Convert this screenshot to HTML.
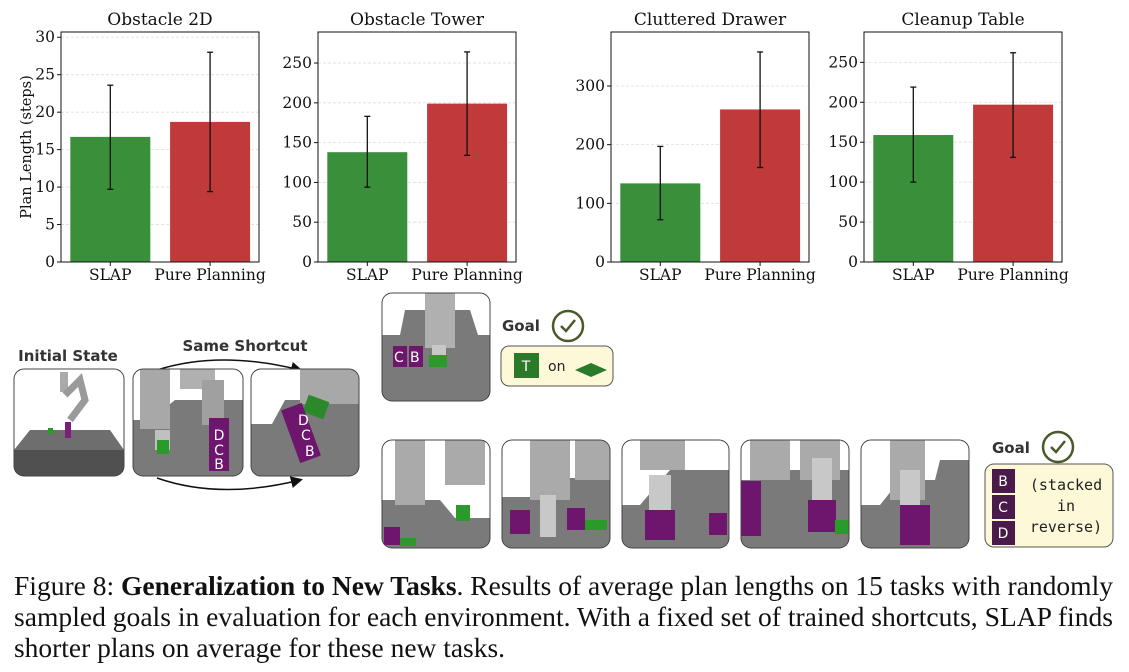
<!DOCTYPE html>
<html><head><meta charset="utf-8">
<style>
html,body{margin:0;padding:0;background:#fff;width:1129px;height:672px;overflow:hidden}
svg{display:block}
.tick{font-family:"DejaVu Serif","Liberation Serif",serif;font-size:15.5px;fill:#111}
.ytl{font-family:"DejaVu Serif","Liberation Serif",serif;font-size:14.5px;fill:#111}
.ttl{font-family:"DejaVu Serif","Liberation Serif",serif;font-size:17px;fill:#111}
.lbl{font-family:"DejaVu Sans","Liberation Sans",sans-serif;font-weight:bold;font-size:15px;fill:#333}
.cap{font-family:"Liberation Serif",serif;font-size:27px;fill:#111}
.mono{font-family:"DejaVu Sans Mono","Liberation Mono",monospace;font-size:15px;fill:#222}
.blk{font-family:"DejaVu Sans","Liberation Sans",sans-serif;font-size:14px;fill:#fff}
</style></head>
<body>
<svg id="fig" width="1129" height="672" viewBox="0 0 1129 672" xmlns="http://www.w3.org/2000/svg">
<g id="charts"></g>
<text class="ytl" transform="translate(31,147) rotate(-90)" text-anchor="middle">Plan Length (steps)</text>

<defs>
<clipPath id="c1"><rect x="14" y="369" width="110" height="107" rx="10"/></clipPath>
<clipPath id="c2"><rect x="133" y="369" width="110" height="107" rx="10"/></clipPath>
<clipPath id="c3"><rect x="251" y="369" width="108" height="107" rx="10"/></clipPath>
<clipPath id="c4"><rect x="382" y="293" width="108" height="108" rx="10"/></clipPath>
<clipPath id="c5"><rect x="382" y="440" width="108" height="108" rx="10"/></clipPath>
<clipPath id="c6"><rect x="502" y="440" width="108" height="108" rx="10"/></clipPath>
<clipPath id="c7"><rect x="622" y="440" width="107" height="108" rx="10"/></clipPath>
<clipPath id="c8"><rect x="741" y="440" width="108" height="108" rx="10"/></clipPath>
<clipPath id="c9"><rect x="861" y="440" width="108" height="108" rx="10"/></clipPath>
<marker id="arr" markerWidth="8" markerHeight="8" refX="6" refY="4" orient="auto"><path d="M0,0 L8,4 L0,8 z" fill="#111"/></marker>
</defs>

<text class="lbl" x="68" y="361" text-anchor="middle">Initial State</text>
<text class="lbl" x="245" y="351" text-anchor="middle">Same Shortcut</text>
<path d="M157,370 Q220,350 300,370" fill="none" stroke="#111" stroke-width="1.5" marker-end="url(#arr)"/>
<path d="M157,478 Q220,500 300,480" fill="none" stroke="#111" stroke-width="1.5" marker-end="url(#arr)"/>

<g clip-path="url(#c1)">
<rect x="14" y="369" width="110" height="107" fill="#fff"/>
<polygon points="14,450 30,430 110,430 124,450 124,476 14,476" fill="#6e6e6e"/>
<polygon points="14,450 124,450 124,476 14,476" fill="#505050"/>
<rect x="60" y="372" width="8" height="20" fill="#aaa"/>
<path d="M65,395 L80,380 L85,400 L70,420" stroke="#9a9a9a" stroke-width="7" fill="none"/>
<rect x="65" y="422" width="6" height="16" fill="#7a1f7a"/>
<rect x="48" y="428" width="5" height="6" fill="#2a9a2a"/>
</g>
<rect x="14" y="369" width="110" height="107" rx="10" fill="none" stroke="#444"/>

<g clip-path="url(#c2)">
<rect x="133" y="369" width="110" height="107" fill="#fff"/>
<polygon points="133,420 150,420 175,400 243,400 243,476 133,476" fill="#7a7a7a"/>
<rect x="140" y="369" width="30" height="60" fill="#a8a8a8"/>
<rect x="180" y="369" width="35" height="20" fill="#b0b0b0"/>
<rect x="202" y="380" width="22" height="45" fill="#a0a0a0"/>
<rect x="155" y="430" width="15" height="20" fill="#c0c0c0"/>
<rect x="157" y="440" width="12" height="14" fill="#2a9a2a"/>
<rect x="209" y="418" width="20" height="53" fill="#6e166e"/>
<text class="blk" x="219" y="440" text-anchor="middle">D</text>
<text class="blk" x="219" y="455" text-anchor="middle">C</text>
<text class="blk" x="219" y="469" text-anchor="middle">B</text>
</g>
<rect x="133" y="369" width="110" height="107" rx="10" fill="none" stroke="#444"/>

<g clip-path="url(#c3)">
<rect x="251" y="369" width="108" height="107" fill="#fff"/>
<polygon points="251,424 272,424 285,400 359,400 359,476 251,476" fill="#7a7a7a"/>
<rect x="300" y="369" width="59" height="35" fill="#a8a8a8"/>
<rect x="305" y="398" width="22" height="18" fill="#2a8a2a" transform="rotate(20 316 407)"/>
<rect x="290" y="405" width="22" height="56" fill="#6e166e" transform="rotate(-20 301 433)"/>
<text class="blk" x="298" y="425">D</text><text class="blk" x="301" y="440">C</text><text class="blk" x="305" y="456">B</text>
</g>
<rect x="251" y="369" width="108" height="107" rx="10" fill="none" stroke="#444"/>

<g clip-path="url(#c4)">
<rect x="382" y="293" width="108" height="108" fill="#fff"/>
<polygon points="382,335 400,335 405,310 470,310 478,335 490,335 490,401 382,401" fill="#7a7a7a"/>
<rect x="425" y="293" width="30" height="55" fill="#b0b0b0"/>
<rect x="432" y="345" width="14" height="20" fill="#c8c8c8"/>
<rect x="429" y="355" width="18" height="12" fill="#2a9a2a"/>
<rect x="393" y="346" width="14" height="21" fill="#6e166e"/><text class="blk" x="394" y="362" font-size="11">C</text>
<rect x="409" y="346" width="14" height="21" fill="#6e166e"/><text class="blk" x="410" y="362" font-size="11">B</text>
</g>
<rect x="382" y="293" width="108" height="108" rx="10" fill="none" stroke="#444"/>

<text class="lbl" x="502" y="331">Goal</text>
<circle cx="568" cy="326" r="15" fill="none" stroke="#4a5a2a" stroke-width="2.5"/>
<path d="M561,326 L566,331 L575,320" fill="none" stroke="#4a5a2a" stroke-width="2.5"/>
<rect x="501" y="346" width="112" height="40" rx="8" fill="#fcf8d8" stroke="#555"/>
<rect x="514" y="353" width="25" height="25" fill="#2a7a2a"/><text class="blk" x="526" y="371" text-anchor="middle">T</text>
<text x="548" y="371" font-family="DejaVu Sans,sans-serif" font-size="14" fill="#222">on</text>
<polygon points="575,370 591,363 607,370 591,377" fill="#2a7a2a"/>

<g clip-path="url(#c5)">
<rect x="382" y="440" width="108" height="108" fill="#fff"/>
<polygon points="382,500 440,500 455,518 490,518 490,548 382,548" fill="#7a7a7a"/>
<rect x="395" y="440" width="30" height="65" fill="#aaa"/><rect x="445" y="440" width="40" height="45" fill="#aaa"/>
<rect x="456" y="505" width="14" height="16" fill="#2a9a2a"/>
<rect x="384" y="527" width="16" height="18" fill="#6e166e"/><rect x="400" y="538" width="16" height="8" fill="#2a9a2a"/>
</g><rect x="382" y="440" width="108" height="108" rx="10" fill="none" stroke="#444"/>

<g clip-path="url(#c6)">
<rect x="502" y="440" width="108" height="108" fill="#fff"/>
<polygon points="502,497 530,497 540,478 610,478 610,548 502,548" fill="#7a7a7a"/>
<rect x="530" y="440" width="40" height="60" fill="#aaa"/><rect x="575" y="440" width="35" height="40" fill="#aaa"/>
<rect x="540" y="495" width="16" height="42" fill="#c8c8c8"/>
<rect x="510" y="510" width="20" height="24" fill="#6e166e"/><rect x="567" y="508" width="18" height="22" fill="#6e166e"/><rect x="585" y="520" width="22" height="10" fill="#2a9a2a"/>
</g><rect x="502" y="440" width="108" height="108" rx="10" fill="none" stroke="#444"/>

<g clip-path="url(#c7)">
<rect x="622" y="440" width="107" height="108" fill="#fff"/>
<polygon points="622,505 640,505 670,470 729,470 729,548 622,548" fill="#7a7a7a"/>
<rect x="640" y="440" width="45" height="30" fill="#aaa"/>
<rect x="649" y="475" width="22" height="62" fill="#c8c8c8"/>
<rect x="645" y="510" width="30" height="30" fill="#6e166e"/><rect x="709" y="513" width="18" height="22" fill="#6e166e"/>
</g><rect x="622" y="440" width="107" height="108" rx="10" fill="none" stroke="#444"/>

<g clip-path="url(#c8)">
<rect x="741" y="440" width="108" height="108" fill="#fff"/>
<polygon points="741,480 775,480 780,470 849,470 849,548 741,548" fill="#7a7a7a"/>
<rect x="750" y="440" width="40" height="40" fill="#aaa"/><rect x="800" y="440" width="40" height="40" fill="#aaa"/>
<rect x="812" y="458" width="20" height="72" fill="#c8c8c8"/>
<rect x="741" y="481" width="20" height="55" fill="#6e166e"/><rect x="808" y="500" width="28" height="32" fill="#6e166e"/><rect x="835" y="520" width="14" height="14" fill="#2a9a2a"/>
</g><rect x="741" y="440" width="108" height="108" rx="10" fill="none" stroke="#444"/>

<g clip-path="url(#c9)">
<rect x="861" y="440" width="108" height="108" fill="#fff"/>
<polygon points="861,505 880,505 900,480 935,480 940,460 969,460 969,548 861,548" fill="#7a7a7a"/>
<rect x="890" y="440" width="35" height="60" fill="#aaa"/>
<rect x="900" y="470" width="20" height="35" fill="#c8c8c8"/>
<rect x="900" y="505" width="30" height="40" fill="#6e166e"/>
</g><rect x="861" y="440" width="108" height="108" rx="10" fill="none" stroke="#444"/>

<text class="lbl" x="992" y="453">Goal</text>
<circle cx="1058" cy="447" r="15" fill="none" stroke="#4a5a2a" stroke-width="2.5"/>
<path d="M1051,447 L1056,452 L1065,441" fill="none" stroke="#4a5a2a" stroke-width="2.5"/>
<rect x="985" y="464" width="128" height="83" rx="9" fill="#fcf8d8" stroke="#555"/>
<rect x="992" y="469" width="23" height="24" fill="#4a1a4a"/><text class="blk" x="1003" y="486" text-anchor="middle">B</text>
<rect x="992" y="495" width="23" height="24" fill="#4a1a4a"/><text class="blk" x="1003" y="512" text-anchor="middle">C</text>
<rect x="992" y="521" width="23" height="24" fill="#4a1a4a"/><text class="blk" x="1003" y="538" text-anchor="middle">D</text>
<text class="mono" x="1066" y="490" text-anchor="middle">(stacked</text>
<text class="mono" x="1066" y="511" text-anchor="middle">in</text>
<text class="mono" x="1066" y="532" text-anchor="middle">reverse)</text>

<g>
<text class="cap" x="14" y="595" textLength="1099" lengthAdjust="spacingAndGlyphs">Figure 8: <tspan font-weight="bold">Generalization to New Tasks</tspan>. Results of average plan lengths on 15 tasks with randomly</text>
<text class="cap" x="14" y="626" textLength="1099" lengthAdjust="spacingAndGlyphs">sampled goals in evaluation for each environment. With a fixed set of trained shortcuts, SLAP finds</text>
<text class="cap" x="14" y="657" textLength="491" lengthAdjust="spacingAndGlyphs">shorter plans on average for these new tasks.</text>
</g>
</svg>
<script>
const titles = ["Obstacle 2D","Obstacle Tower","Cluttered Drawer","Cleanup Table"];
const categories = ["SLAP","Pure Planning"];
const slapMeans = [16.7, 138, 134, 159];
const slapLo = [9.7, 94, 72, 100];
const slapHi = [23.6, 183, 197, 219];
const ppMeans = [18.7, 199, 260, 197];
const ppLo = [9.4, 134, 161, 131];
const ppHi = [28.0, 264, 358, 262];
const yMaxes = [30.7, 289, 392, 288];
const tickSets = [[0,5,10,15,20,25,30],[0,50,100,150,200,250],[0,100,200,300],[0,50,100,150,200,250]];
const colors = ["#3a8f3a","#c03a3a"];
const NS="http://www.w3.org/2000/svg";
const boxLefts=[61,318,611,864];
const W=198, TOP=32, BOT=262;
const g=document.getElementById('charts');
function mk(tag,attrs,parent){const e=document.createElementNS(NS,tag);for(const k in attrs)e.setAttribute(k,attrs[k]);(parent||g).appendChild(e);return e;}
titles.forEach((t,i)=>{
  const L=boxLefts[i];
  const y=v=>BOT-(v/yMaxes[i])*(BOT-TOP);
  const bw=W*0.404, gap=W*0.047;
  const x=j=>L+gap+j*(bw+W*0.1);
  const cg=mk('g',{});
  
  
  tickSets[i].forEach(v=>{
    const gl=mk('line',{x1:L,x2:L+W,y1:y(v),y2:y(v),stroke:'#ddd','stroke-width':0.8,'stroke-dasharray':'3,2'},cg);
    
    
    mk('line',{x1:L-4,x2:L,y1:y(v),y2:y(v),stroke:'#111'},cg);
    const tx=mk('text',{x:L-6,y:y(v)+5,'text-anchor':'end',class:'tick'},cg);
    tx.textContent=v;
    
    
  });
  const means=[slapMeans[i],ppMeans[i]], lo=[slapLo[i],ppLo[i]], hi=[slapHi[i],ppHi[i]];
  categories.forEach((c,j)=>{
    const b=mk('rect',{x:x(j),y:y(means[j]),width:bw,height:BOT-y(means[j]),fill:colors[j]},cg);
    
    
    const cx=x(j)+bw/2;
    const eb=mk('g',{stroke:'#111','stroke-width':1.3},cg);
    
    
    mk('line',{x1:cx,x2:cx,y1:y(lo[j]),y2:y(hi[j])},eb);
    mk('line',{x1:cx-3,x2:cx+3,y1:y(lo[j]),y2:y(lo[j])},eb);
    mk('line',{x1:cx-3,x2:cx+3,y1:y(hi[j]),y2:y(hi[j])},eb);
    mk('line',{x1:cx,x2:cx,y1:BOT,y2:BOT+4,stroke:'#111'},cg);
    const xl=mk('text',{x:cx,y:BOT+18,'text-anchor':'middle',class:'tick'},cg);
    xl.textContent=c;
    
    
  });
  const fr=mk('rect',{x:L,y:TOP,width:W,height:BOT-TOP,fill:'none',stroke:'#111','stroke-width':1},cg);
  
  
  const tt=mk('text',{x:L+W/2,y:25,'text-anchor':'middle',class:'ttl'},cg);
  tt.textContent=t;
  
  
});
</script>
</body></html>
